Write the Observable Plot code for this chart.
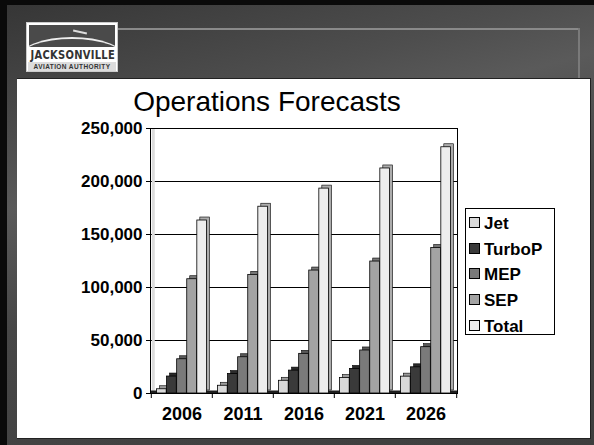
<!DOCTYPE html>
<html><head><meta charset="utf-8">
<script src="https://cdn.jsdelivr.net/npm/d3@7"></script>
<script src="https://cdn.jsdelivr.net/npm/@observablehq/plot@0.6"></script>
<style>
body{margin:0;background:#3d3d3d;}
#slide{position:relative;width:594px;height:445px;overflow:hidden;font-family:"Liberation Sans",Arial,sans-serif;
  background:linear-gradient(165deg,#353535 0%,#4e4e4e 25%,#5a5a5a 35%,#474747 55%,#3e3e3e 100%);}
#topb{position:absolute;left:0;top:0;width:594px;height:5px;background:#0a0a0a;}
#leftb{position:absolute;left:0;top:0;width:7px;height:445px;background:#0a0a0a;}
#hline{position:absolute;left:118px;top:28px;width:462px;height:2px;background:#8a8a8a;}
#vline{position:absolute;left:578px;top:28px;width:2px;height:50px;background:#7a7a7a;}
#panel{position:absolute;left:17px;top:78px;width:573px;height:359px;background:#fff;border-top:1px solid #222;border-right:1px solid #222;border-bottom:1px solid #222;}
#logo{position:absolute;left:26px;top:22px;width:90px;height:48px;background:#fff;border:1px solid #ccc;overflow:hidden;}
#logo .sky{position:absolute;left:2px;top:2px;width:86px;height:22px;background:#4a4a4a;overflow:hidden;}
#logo .arc{position:absolute;left:-10px;top:12px;width:106px;height:40px;border-top:2px solid #eee;border-radius:50%;}
#logo .plane{position:absolute;left:44px;top:6px;width:14px;height:2px;background:#ddd;transform:rotate(12deg);}
#logo .n1{position:absolute;left:0;top:25px;width:90px;text-align:center;font-weight:bold;font-size:12px;letter-spacing:0.3px;color:#333;font-family:"DejaVu Sans Condensed","Liberation Sans Narrow",sans-serif;transform:scaleX(0.92);}
#logo .n2{position:absolute;left:1px;top:39px;width:88px;height:9px;background:#dcdcdc;text-align:center;font-weight:bold;font-size:6.5px;letter-spacing:0.4px;color:#333;line-height:9px;}
#title{position:absolute;left:0;top:88px;width:534px;text-align:center;font-size:28px;line-height:28px;color:#000;}
#chart{position:absolute;left:0;top:115px;}
#legend{position:absolute;left:465px;top:208px;width:90px;height:127px;border:1px solid #000;background:#fff;box-sizing:border-box;}
.li{position:absolute;left:3px;height:20px;font-weight:bold;font-size:17px;line-height:20px;color:#000;white-space:nowrap;}
.sw{display:inline-block;width:9px;height:9px;border:1px solid #000;margin-right:4px;vertical-align:1px;}
</style></head>
<body>
<div id="slide">
  <div id="topb"></div><div id="leftb"></div>
  <div id="hline"></div><div id="vline"></div>
  <div id="logo"><div class="sky"><div class="arc"></div><div class="plane"></div></div>
    <div class="n1">JACKSONVILLE</div><div class="n2">AVIATION AUTHORITY</div></div>
  <div id="panel"></div>
  <div id="title">Operations Forecasts</div>
  <div id="chart"></div>
  <div id="legend"></div>
</div>
<script>
const years = ["2006", "2011", "2016", "2021", "2026"];
const seriesNames = ["Jet", "TurboP", "MEP", "SEP", "Total"];
const jet    = [4000, 7300, 12000, 14600, 15900];
const turboP = [16000, 18400, 21600, 23200, 24700];
const mep    = [32300, 34200, 37400, 40600, 43700];
const sep    = [107800, 111900, 116000, 124500, 137200];
const total  = [163200, 176200, 193300, 212300, 232300];
const yTicks = [0, 50000, 100000, 150000, 200000, 250000];
const colors = ["#d9d9d9", "#3a3a3a", "#7a7a7a", "#a3a3a3", "#ededed"];

const seriesValues = [jet, turboP, mep, sep, total];
const rows = seriesNames.flatMap((s, j) => years.map((yr, i) => ({year: yr, series: s, value: seriesValues[j][i]})));

const W = 594, H = 320, mL = 150, mR = 137, mT = 13, mB = 42;
const bw = (W - mL - mR) / years.length;
const gap = 5.5;
const barW = (bw - 2 * gap) / seriesNames.length;

const marks = [
  Plot.gridY({ticks: yTicks, stroke: "#000", strokeOpacity: 1, strokeWidth: 1}),
  Plot.ruleX([years[0]], {dx: -bw / 2 + 2, stroke: "#dcdcdc", strokeWidth: 3}),
  Plot.ruleY([0], {stroke: "#1e1e1e", strokeWidth: 3, dy: -1.5}),
];
seriesNames.forEach((s, j) => {
  const data = rows.filter(r => r.series === s);
  const il = gap + j * barW, ir = bw - gap - (j + 1) * barW;
  marks.push(Plot.barY(data, {x: "year", y: "value", insetLeft: il, insetRight: ir, dx: 3, dy: -3,
    fill: d3.color(colors[j]).darker(0.9).formatHex(), stroke: "#000", strokeWidth: 0.6}));
  marks.push(Plot.barY(data, {x: "year", y: "value", insetLeft: il, insetRight: ir,
    fill: colors[j], stroke: "#000", strokeWidth: 0.8}));
});
marks.push(
  Plot.frame({stroke: "#000"}),
  Plot.ruleX(years, {x: d => d, y1: 0, y2: 0, dx: -bw / 2, insetBottom: -5, stroke: "#000"}),
  Plot.ruleX([years[years.length - 1]], {x: d => d, y1: 0, y2: 0, dx: bw / 2, insetBottom: -5, stroke: "#000"}),
  Plot.axisY({ticks: yTicks, tickSize: 4, tickPadding: 4, tickFormat: d3.format(","), fontSize: 17, fontWeight: "bold", label: null}),
  Plot.axisX({tickSize: 0, tickPadding: 14, fontSize: 18, fontWeight: "bold", label: null})
);

const chart = Plot.plot({
  width: W, height: H, marginLeft: mL, marginRight: mR, marginTop: mT, marginBottom: mB,
  x: {domain: years, padding: 0},
  y: {domain: [0, 250000]},
  style: {fontFamily: "'Liberation Sans', Arial, sans-serif", color: "#000", background: "transparent", overflow: "visible"},
  marks
});
document.getElementById("chart").appendChild(chart);

const legend = document.getElementById("legend");
seriesNames.forEach((s, j) => {
  const d = document.createElement("div");
  d.className = "li";
  d.style.top = (5 + j * 25.7) + "px";
  d.innerHTML = `<span class="sw" style="background:${colors[j]}"></span>${s}`;
  legend.appendChild(d);
});
</script>
</body></html>
